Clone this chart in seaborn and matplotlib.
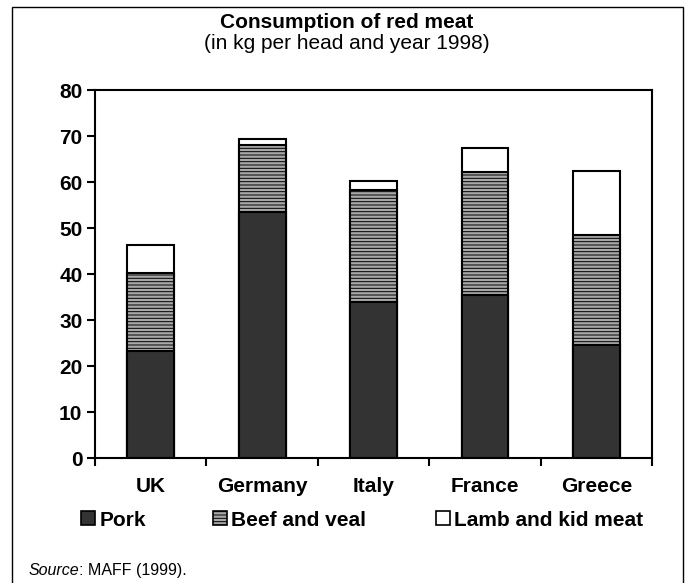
import matplotlib
matplotlib.use('Agg')
import matplotlib.pyplot as plt
import matplotlib.patches as mpatches
import seaborn as sns
import pandas as pd

# values (kg per head, 1998)
countries = ['UK', 'Germany', 'Italy', 'France', 'Greece']
pork = [23.3, 53.5, 33.9, 35.4, 24.6]
beef = [16.9, 14.5, 24.4, 26.8, 23.9]
lamb = [6.1, 1.3, 1.9, 5.2, 13.9]

sns.set_style('white')
plt.rcParams['font.family'] = ['Liberation Sans', 'DejaVu Sans']
plt.rcParams['hatch.linewidth'] = 0.7
for k in ['text.color', 'axes.labelcolor', 'xtick.color', 'ytick.color']:
    plt.rcParams[k] = 'black'

df = pd.DataFrame({'Country': countries, 'Pork': pork, 'Beef': beef, 'Lamb': lamb})
df['PorkBeef'] = df['Pork'] + df['Beef']
df['Total'] = df['PorkBeef'] + df['Lamb']

fig = plt.figure(figsize=(6.88, 5.83), dpi=100)
ax = fig.add_axes([0.138, 0.2144, 0.81, 0.6312])

# stacked bars drawn as cumulative layers
sns.barplot(data=df, x='Country', y='Total', color='white', edgecolor='black',
            linewidth=1.5, width=0.42, saturation=1, ax=ax)
sns.barplot(data=df, x='Country', y='PorkBeef', color='#a8a8a8', edgecolor='black',
            linewidth=1.5, width=0.42, saturation=1, hatch='-----', ax=ax)
sns.barplot(data=df, x='Country', y='Pork', color='#333333', edgecolor='black',
            linewidth=1.5, width=0.42, saturation=1, ax=ax)

ax.set_ylim(0, 80)
ax.set_xlim(-0.5, 4.5)
ax.set_yticks(range(0, 81, 10))
ax.set_xlabel('')
ax.set_ylabel('')
for s in ax.spines.values():
    s.set_color('black')
    s.set_linewidth(1.5)
    s.set_visible(True)

ax.tick_params(axis='y', which='major', direction='out', length=6, width=1.5,
               left=True, labelsize=15, pad=3)
ax.tick_params(axis='x', which='major', length=0, labelsize=15, pad=14)
ax.set_xticks([i - 0.5 for i in range(6)], minor=True)
ax.tick_params(axis='x', which='minor', direction='out', length=6, width=1.5, bottom=True)
for lbl in ax.get_xticklabels() + ax.get_yticklabels():
    lbl.set_fontweight('bold')

# title and subtitle
fig.text(0.504, 0.962, 'Consumption of red meat', ha='center', va='center',
         fontsize=15, fontweight='bold')
fig.text(0.504, 0.925, '(in kg per head and year 1998)', ha='center', va='center',
         fontsize=15)

# legend entries placed one by one
entries = [
    (mpatches.Patch(facecolor='#333333', edgecolor='black', linewidth=1.2), 'Pork', 0.118),
    (mpatches.Patch(facecolor='#a8a8a8', edgecolor='black', linewidth=1.2, hatch='-----'),
     'Beef and veal', 0.31),
    (mpatches.Patch(facecolor='white', edgecolor='black', linewidth=1.2), 'Lamb and kid meat', 0.634),
]
for h, lab, xpos in entries:
    fig.legend([h], [lab], loc='center left', bbox_to_anchor=(xpos, 0.108), frameon=False,
               handlelength=0.67, handleheight=0.67, handletextpad=0.2, borderpad=0,
               borderaxespad=0, prop={'size': 15, 'weight': 'bold'})

# source note
src = fig.text(0.041, 0.022, 'Source', style='italic', fontsize=11.5, ha='left', va='center')
ax.annotate(': MAFF (1999).', xy=(1, 0.5), xycoords=src, ha='left', va='center',
            fontsize=11.5, annotation_clip=False)

# outer frame
fig.add_artist(mpatches.Rectangle((12 / 688, -0.01), (683 - 12) / 688, 1 - 7 / 583 + 0.01,
                                  transform=fig.transFigure, fill=False,
                                  edgecolor='black', linewidth=1.0))

fig.savefig('out.png', dpi=100)
